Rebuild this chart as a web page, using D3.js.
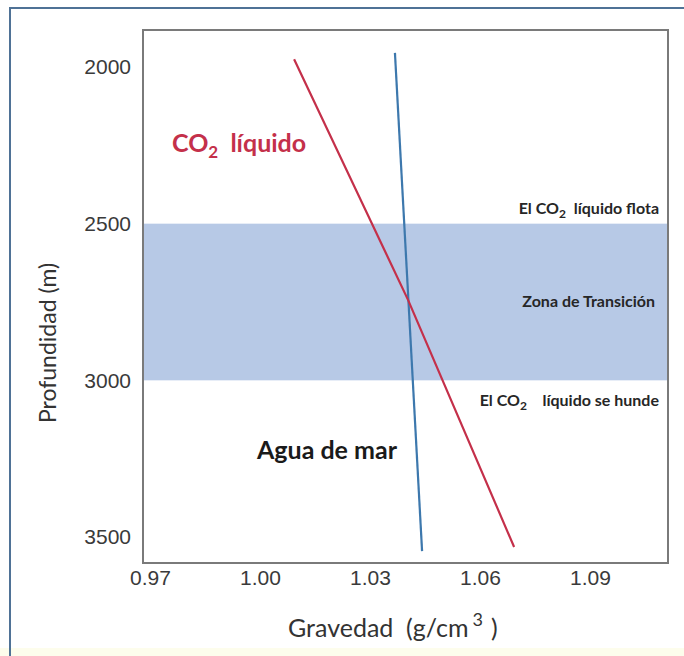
<!DOCTYPE html>
<html>
<head>
<meta charset="utf-8">
<script src="https://cdn.jsdelivr.net/npm/d3@7"></script>
<style>
  html, body { margin: 0; padding: 0; background: #ffffff; }
  svg { display: block; }
</style>
</head>
<body>
<svg id="chart" width="684" height="656"></svg>
<script>
// ---- data ----
const xTicks = [0.97, 1.00, 1.03, 1.06, 1.09];
const yTicks = [2000, 2500, 3000, 3500];
const co2Gravity = [1.0093, 1.0404, 1.0693];
const co2Depth   = [1975, 2744, 3532];
const seaGravity = [1.0368, 1.0442];
const seaDepth   = [1955, 3545];
const transitionZone = [2500, 3000];

// ---- layout ----
const svg = d3.select("#chart");
const L = 143, R = 668, T = 30, B = 563;
const FONT = "Lato, 'Open Sans', sans-serif";

const x = d3.scaleLinear().domain([0.96809, 1.11127]).range([L, R]);
const y = d3.scaleLinear().domain([2000, 3500]).range([67, 537]);

// outer frame (only top/left visible)
svg.append("rect").attr("x", 0).attr("y", 648).attr("width", 684).attr("height", 8).attr("fill", "#fdfdec");
svg.append("rect").attr("x", 10).attr("y", 8).attr("width", 720).attr("height", 720)
  .attr("fill", "none").attr("stroke", "#4f7296").attr("stroke-width", 2);

// transition band
svg.append("rect")
  .attr("x", L).attr("width", R - L)
  .attr("y", y(transitionZone[0])).attr("height", y(transitionZone[1]) - y(transitionZone[0]))
  .attr("fill", "#b7c9e6");

// lines
const line = d3.line().x(d => x(d[0])).y(d => y(d[1]));
const co2 = co2Gravity.map((g, i) => [g, co2Depth[i]]);
const sea = seaGravity.map((g, i) => [g, seaDepth[i]]);

svg.append("path").datum(sea).attr("d", line)
  .attr("fill", "none").attr("stroke", "#3d78ad").attr("stroke-width", 2.2);
svg.append("path").datum(co2).attr("d", line)
  .attr("fill", "none").attr("stroke", "#c4304a").attr("stroke-width", 2.2);

// plot frame
svg.append("rect").attr("x", L).attr("y", T).attr("width", R - L).attr("height", B - T)
  .attr("fill", "none").attr("stroke", "#7a7a7a").attr("stroke-width", 2);

// axes
const yAxis = d3.axisLeft(y).tickValues(yTicks).tickSize(0).tickPadding(12).tickFormat(d3.format("d"));
const gy = svg.append("g").attr("transform", `translate(${L},0)`).call(yAxis);
gy.select(".domain").remove();
gy.selectAll("text").attr("font-family", "Liberation Sans, Arial, sans-serif")
  .attr("font-size", 21).attr("fill", "#3a3a3a");

const xAxis = d3.axisBottom(x).tickValues(xTicks).tickSize(0).tickPadding(7).tickFormat(d3.format(".2f"));
const gx = svg.append("g").attr("transform", `translate(0,${B})`).call(xAxis);
gx.select(".domain").remove();
gx.selectAll("text").attr("font-family", "Liberation Sans, Arial, sans-serif")
  .attr("font-size", 21).attr("fill", "#3a3a3a");

// axis titles
svg.append("text")
  .attr("transform", "translate(56,343) rotate(-90)")
  .attr("text-anchor", "middle")
  .attr("font-family", FONT).attr("font-size", 23).attr("fill", "#333")
  .text("Profundidad (m)");

const xt = svg.append("text")
  .attr("x", 288).attr("y", 637)
  .attr("font-family", FONT).attr("font-size", 25).attr("fill", "#333");
xt.append("tspan").text("Gravedad\u00a0\u00a0(g/cm");
xt.append("tspan").attr("dx", 4).attr("dy", -11).attr("font-size", 18).text("3");
xt.append("tspan").attr("dx", 8).attr("dy", 11).text(")");

// annotations
const red = svg.append("text").attr("x", 172).attr("y", 152)
  .attr("font-family", FONT).attr("font-weight", "bold")
  .attr("font-size", 25).attr("fill", "#c4304a");
red.append("tspan").text("CO");
red.append("tspan").attr("dy", 6).attr("font-size", 17).text("2");
red.append("tspan").attr("dy", -6).text("\u00a0\u00a0líquido");

svg.append("text").attr("x", 257).attr("y", 459)
  .attr("font-family", FONT).attr("font-weight", "bold")
  .attr("font-size", 25).attr("fill", "#1a1a1a")
  .text("Agua de mar");

function co2Label(yy, rest, pre) {
  const t = svg.append("text").attr("x", 659).attr("y", yy).attr("text-anchor", "end")
    .attr("font-family", FONT).attr("font-weight", "bold")
    .attr("font-size", 16).attr("fill", "#262626");
  t.append("tspan").text("El CO");
  t.append("tspan").attr("dy", 4).attr("font-size", 12).text("2");
  t.append("tspan").attr("dy", -4).text(pre + rest);
  return t;
}
co2Label(y(2500) - 10, "líquido flota", "\u00a0\u00a0");
svg.append("text").attr("x", 655).attr("y", y(2750) + 5).attr("text-anchor", "end")
  .attr("font-family", FONT).attr("font-weight", "bold")
  .attr("font-size", 16).attr("fill", "#262626")
  .text("Zona de Transición");
co2Label(y(3000) + 26, "líquido se hunde", "\u00a0\u00a0\u00a0\u00a0");
</script>
</body>
</html>
